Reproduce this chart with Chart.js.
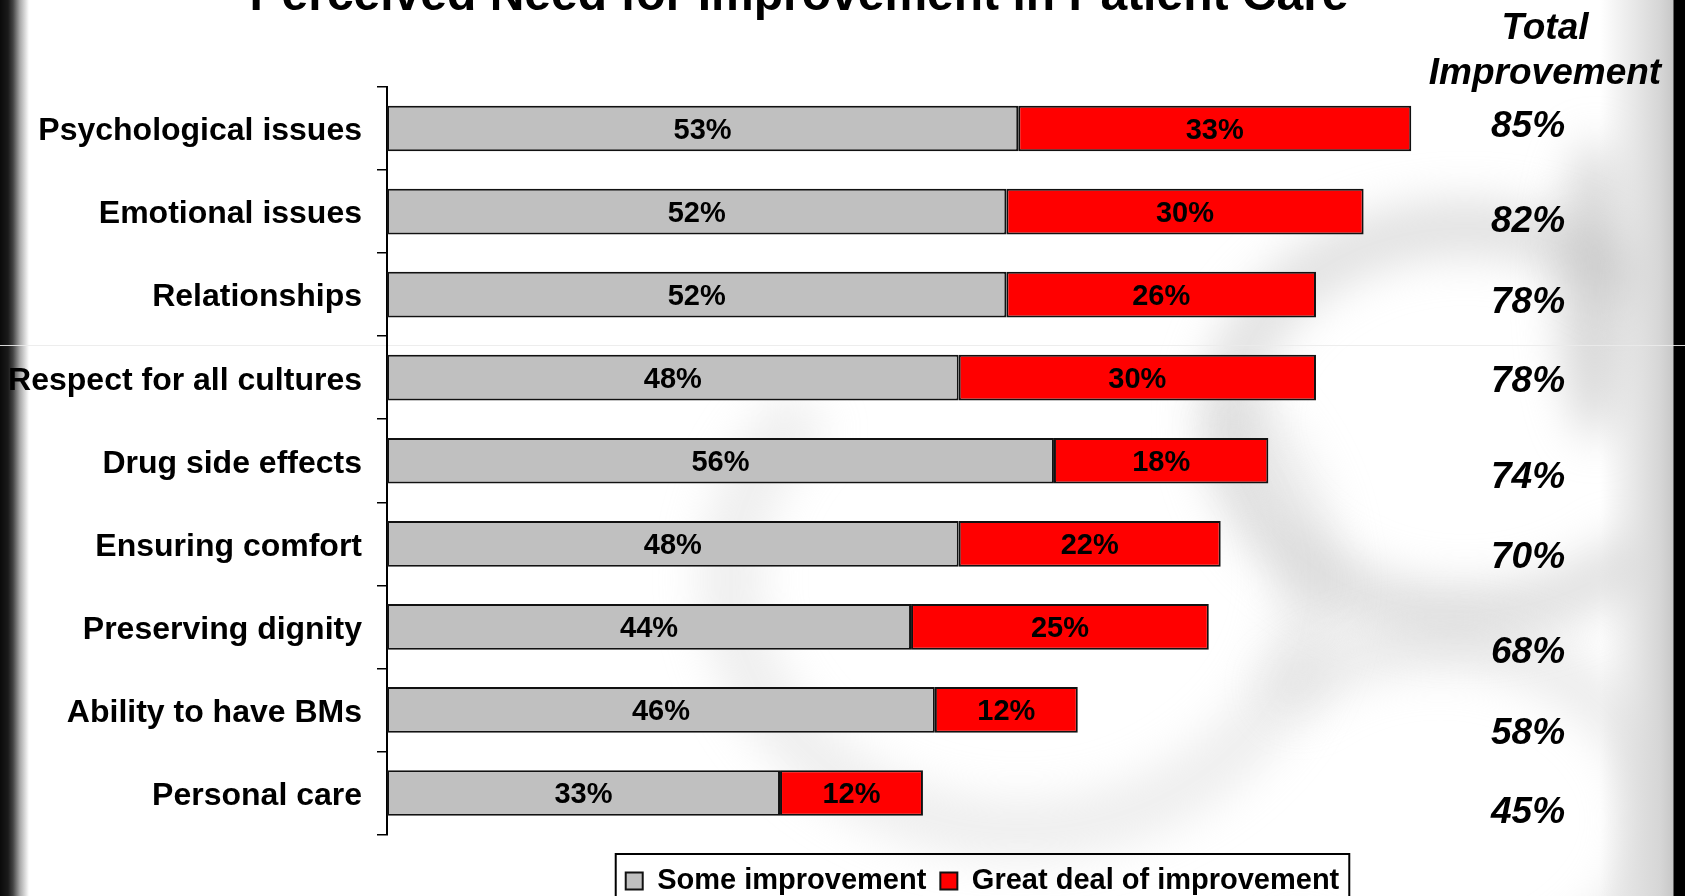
<!DOCTYPE html>
<html>
<head>
<meta charset="utf-8">
<title>Perceived Need for Improvement in Patient Care</title>
<script src="https://cdn.jsdelivr.net/npm/chart.js@4.4.1/dist/chart.umd.min.js"></script>
<style>
  html, body { margin: 0; padding: 0; }
  body {
    width: 1685px; height: 896px; overflow: hidden; position: relative;
    background: #fff;
  }
  /* dark slide edges */
  #edgeLeft {
    position: absolute; left: 0; top: 0; width: 30px; height: 896px;
    background: linear-gradient(to right, #0a0a0a 0px, #1a1a1a 8px, #444 13px, #aaa 20px, #fff 29px);
  }
  #edgeRight {
    position: absolute; left: 1600px; top: 0; width: 85px; height: 896px;
    background: linear-gradient(to right, rgba(255,255,255,0) 0px, #d6d6d6 60px, #c8c8c8 73px, #000 74px, #000 85px);
  }
  #seam {
    position: absolute; left: 0; top: 345px; width: 1685px; height: 1px;
    background: rgba(235,235,235,0.9);
  }
  /* faint blurred watermark */
  .wm { position: absolute; border-radius: 50%; filter: blur(22px); }
  canvas { position: absolute; left: 0; top: 0; }
</style>
</head>
<body>
<div id="edgeLeft"></div>
<div class="wm" style="left:1200px;top:200px;width:420px;height:330px;border:55px solid rgba(200,200,200,0.55);border-right-color:transparent;"></div>
<div class="wm" style="left:700px;top:300px;width:520px;height:440px;border:60px solid rgba(205,205,205,0.35);border-top-color:transparent;"></div>
<div class="wm" style="left:1560px;top:140px;width:70px;height:300px;background:rgba(190,190,190,0.6);"></div>
<div class="wm" style="left:1200px;top:620px;width:380px;height:300px;border:50px solid rgba(210,210,210,0.45);border-left-color:transparent;"></div>
<div id="edgeRight"></div>
<div id="seam"></div>
<canvas id="chart" width="1685" height="896"></canvas>
<script>
// data
var categories = [
    "Psychological issues",
    "Emotional issues",
    "Relationships",
    "Respect for all cultures",
    "Drug side effects",
    "Ensuring comfort",
    "Preserving dignity",
    "Ability to have BMs",
    "Personal care"
];
var someImprovement = [53, 52, 52, 48, 56, 48, 44, 46, 33];
var greatDeal = [33, 30, 26, 30, 18, 22, 25, 12, 12];
var totalImprovement = [85, 82, 78, 78, 74, 70, 68, 58, 45];
var seriesNames = ["Some improvement", "Great deal of improvement"];
var chartTitle = "Perceived Need for Improvement in Patient Care";
var totalHeader = ["Total", "Improvement"];

var FONT = '"Liberation Sans", Arial, Helvetica, sans-serif';

// percentages written in the middle of each bar piece
var barLabels = {
    id: "barLabels",
    afterDatasetsDraw: function (chart) {
        var ctx = chart.ctx;
        ctx.save();
        ctx.font = "bold 29px " + FONT;
        ctx.fillStyle = "#000";
        ctx.textAlign = "center";
        ctx.textBaseline = "middle";
        chart.data.datasets.forEach(function (ds, di) {
            chart.getDatasetMeta(di).data.forEach(function (bar, i) {
                var x = (bar.x + bar.base) / 2;
                ctx.fillText(ds.data[i] + "%", x, bar.y + 2);
            });
        });
        ctx.restore();
    }
};

// title (cut by the top edge), total column, legend frame
var extras = {
    id: "extras",
    afterDraw: function (chart) {
        var ctx = chart.ctx;
        var yScale = chart.scales.y;
        ctx.save();
        ctx.fillStyle = "#000";

        ctx.font = "bold 48px " + FONT;
        ctx.textAlign = "center";
        ctx.textBaseline = "alphabetic";
        ctx.fillText(chartTitle, 799, 10);

        ctx.font = "italic bold 37px " + FONT;
        ctx.textBaseline = "middle";
        ctx.fillText(totalHeader[0], 1545, 29);
        ctx.fillText(totalHeader[1], 1545, 74);

        // the totals sit in their own text box, not quite lined up with the bars
        var shift = [-2, 10, 8, 4, 17, 14, 26, 24, 20];
        totalImprovement.forEach(function (t, i) {
            ctx.fillText(t + "%", 1528, yScale.getPixelForValue(i) + shift[i]);
        });

        // frame around the legend
        var boxes = chart.legend.legendHitBoxes;
        if (boxes && boxes.length) {
            var left = boxes[0].left - 10;
            var last = boxes[boxes.length - 1];
            var right = last.left + last.width + 10;
            ctx.strokeStyle = "#000";
            ctx.lineWidth = 2;
            ctx.strokeRect(left, 854, right - left, 60);
        }
        ctx.restore();
    }
};

var canvasElement = document.getElementById("chart");
var config = {
    type: "bar",
    data: {
        labels: categories,
        datasets: [{
            label: seriesNames[0],
            data: someImprovement,
            backgroundColor: "#C0C0C0",
            borderColor: "#111",
            borderWidth: 2,
            borderSkipped: false
        }, {
            label: seriesNames[1],
            data: greatDeal,
            backgroundColor: "#FF0000",
            borderColor: "#111",
            borderWidth: 2,
            borderSkipped: false
        }]
    },
    options: {
        indexAxis: "y",
        responsive: false,
        animation: false,
        devicePixelRatio: 1,
        layout: { padding: { left: 0, right: 107, top: 87, bottom: -9.5 } },
        datasets: { bar: { barPercentage: 0.55, categoryPercentage: 1 } },
        scales: {
            x: {
                stacked: true,
                min: 0,
                max: 100,
                ticks: { display: false },
                grid: { display: false },
                border: { display: false },
                afterFit: function (s) { s.height = 18; }
            },
            y: {
                stacked: true,
                afterFit: function (s) { s.width = 387; },
                ticks: {
                    color: "#000",
                    padding: 15,
                    labelOffset: 3,
                    font: { family: FONT, size: 32, weight: "bold" }
                },
                grid: {
                    offset: true,
                    drawOnChartArea: false,
                    drawTicks: true,
                    tickLength: 10,
                    color: "#000",
                    lineWidth: 1.5
                },
                border: { display: true, color: "#000", width: 2 }
            }
        },
        plugins: {
            legend: {
                position: "bottom",
                fullSize: false,
                labels: {
                    color: "#000",
                    boxWidth: 17,
                    boxHeight: 17,
                    padding: 14,
                    font: { family: FONT, size: 29, weight: "bold" }
                }
            },
            tooltip: { enabled: false }
        }
    },
    plugins: [barLabels, extras]
};

var barChart = new Chart(canvasElement, config);
</script>
</body>
</html>
